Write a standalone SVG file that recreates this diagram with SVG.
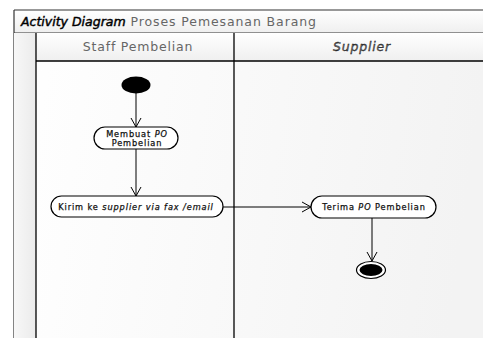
<svg xmlns="http://www.w3.org/2000/svg" width="483" height="338" viewBox="0 0 483 338">
  <defs>
    <linearGradient id="bg" x1="0" y1="0" x2="1" y2="0.1">
      <stop offset="0" stop-color="#ffffff"/>
      <stop offset="1" stop-color="#f3f3f3"/>
    </linearGradient>
    <linearGradient id="hdr" x1="0" y1="0" x2="0" y2="1">
      <stop offset="0" stop-color="#ffffff"/>
      <stop offset="1" stop-color="#efefef"/>
    </linearGradient>
    <linearGradient id="side" x1="0" y1="0" x2="1" y2="0">
      <stop offset="0" stop-color="#f7f7f7"/>
      <stop offset="1" stop-color="#ebebeb"/>
    </linearGradient>
    <marker id="open" markerWidth="12" markerHeight="12" refX="10" refY="6" orient="auto" markerUnits="userSpaceOnUse">
      <path d="M1,1 L10,6 L1,11" fill="none" stroke="#000" stroke-width="1"/>
    </marker>
    <style>
      .frame { fill: none; stroke: #333; stroke-width: 1.2; }
      .lane { fill: none; stroke: #000; stroke-width: 1.3; }
      .act { fill: #fff; stroke: #000; stroke-width: 1.2; }
      .lbl { font-family: "DejaVu Sans", sans-serif; font-size: 8.2px; letter-spacing: 0.9px; fill: #111; stroke: #111; stroke-width: 0.25; text-anchor: middle; }
      .hd { font-family: "DejaVu Sans", sans-serif; font-size: 12.5px; letter-spacing: 0.8px; fill: #666; text-anchor: middle; }
      .flow { fill: none; stroke: #000; stroke-width: 1; marker-end: url(#open); }
    </style>
  </defs>

  <rect width="483" height="338" fill="#fff"/>

  <!-- diagram frame and title bar -->
  <g id="frame">
    <rect x="14" y="10" width="475" height="340" fill="url(#bg)"/>
    <rect x="14" y="10" width="475" height="23" fill="url(#hdr)"/>
    <line class="frame" x1="14" y1="10" x2="483" y2="10"/>
    <line class="frame" x1="14" y1="10" x2="14" y2="338"/>
    <line class="frame" x1="14" y1="33" x2="483" y2="33"/>
    <text x="21" y="26" font-family="DejaVu Sans, sans-serif"><tspan font-size="12.5px" font-style="italic" fill="#000" stroke="#000" stroke-width="0.45">Activity Diagram</tspan><tspan font-size="12.5px" letter-spacing="0.9px" fill="#666"> Proses Pemesanan Barang</tspan></text>
  </g>

  <!-- swimlanes -->
  <g id="lanes">
    <rect x="14" y="33" width="22" height="305" fill="url(#side)"/>
    <rect x="36" y="33" width="447" height="28" fill="url(#hdr)"/>
    <line class="lane" x1="36" y1="33" x2="36" y2="338"/>
    <line class="lane" x1="234" y1="33" x2="234" y2="338"/>
    <line class="lane" x1="36" y1="61" x2="483" y2="61"/>
    <text class="hd" x="138" y="51">Staff Pembelian</text>
    <text class="hd" x="362" y="51" font-style="italic" fill="#000" stroke="#000" stroke-width="0.3" letter-spacing="0.3px">Supplier</text>
  </g>

  <!-- connectors -->
  <g id="connectors">
    <line class="flow" x1="136" y1="93" x2="136" y2="127"/>
    <line class="flow" x1="136" y1="149" x2="136" y2="196"/>
    <line class="flow" x1="223" y1="207" x2="311" y2="207"/>
    <line class="flow" x1="372" y1="218" x2="372" y2="261"/>
  </g>

  <g id="start">
    <ellipse cx="136" cy="85" rx="14.5" ry="8.5" fill="#000"/>
  </g>

  <g id="membuat-po">
    <rect class="act" x="94" y="127" width="84" height="22" rx="11" ry="11"/>
    <text class="lbl" x="137" y="136.5">Membuat <tspan font-style="italic">PO</tspan></text>
    <text class="lbl" x="137" y="146">Pembelian</text>
  </g>

  <g id="kirim">
    <rect class="act" x="51" y="196" width="172" height="21" rx="10.5" ry="10.5"/>
    <text class="lbl" x="136" y="210" letter-spacing="0.55px">Kirim ke <tspan font-style="italic">supplier via fax /email</tspan></text>
  </g>

  <g id="terima-po">
    <rect class="act" x="311" y="196" width="125" height="22" rx="11" ry="11"/>
    <text class="lbl" x="374" y="210">Terima <tspan font-style="italic">PO</tspan> Pembelian</text>
  </g>

  <g id="end">
    <ellipse cx="371" cy="270" rx="14.5" ry="8.5" fill="#fff" stroke="#000" stroke-width="1.2"/>
    <ellipse cx="371" cy="270" rx="11.5" ry="6" fill="#000"/>
  </g>
</svg>
